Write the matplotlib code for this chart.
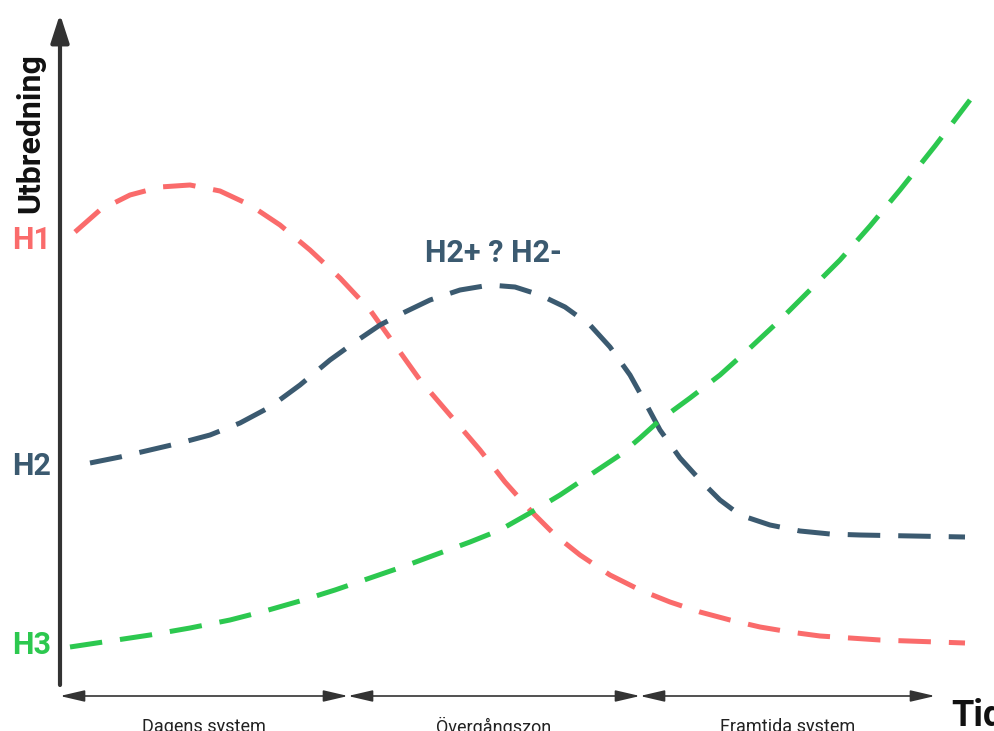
import matplotlib
matplotlib.use("Agg")
import matplotlib.pyplot as plt

plt.rcParams["font.family"] = ["Roboto", "DejaVu Sans"]

# values (pixel-like units, y grows downward)
h1_x = [75, 100, 130, 160, 190, 220, 250, 280, 310, 340, 370, 395, 420, 450, 480,
        505, 530, 555, 580, 610, 640, 670, 700, 730, 760, 790, 820, 880, 965]
h1_y = [232, 210, 195, 187, 185, 191, 205, 225, 250, 278, 310, 345, 380, 415, 450,
        482, 510, 535, 555, 575, 590, 602, 612, 620, 627, 632, 636, 640, 643]

h2_x = [90, 120, 150, 180, 210, 240, 270, 300, 330, 355, 380, 405, 430, 460, 490,
        515, 540, 565, 590, 610, 630, 645, 660, 680, 700, 720, 740, 770, 800, 830,
        860, 965]
h2_y = [463, 457, 450, 443, 435, 423, 407, 385, 360, 342, 325, 312, 300, 290, 285,
        287, 295, 307, 325, 347, 375, 402, 430, 458, 480, 500, 515, 525, 531, 534,
        535, 537]

h3_x = [70, 110, 150, 190, 230, 265, 300, 335, 370, 405, 440, 470, 500, 530, 560,
        590, 620, 640, 660, 690, 720, 750, 780, 810, 840, 870, 900, 935, 970]
h3_y = [647, 641, 635, 628, 620, 611, 601, 590, 578, 566, 553, 542, 530, 513, 495,
        475, 455, 438, 420, 398, 375, 348, 320, 290, 260, 226, 190, 146, 100]

zones = ["Dagens system", "Övergångszon", "Framtida system"]
zone_edges = [60, 348, 640, 935]

RED = "#FA6B6B"
BLUE = "#3B5A70"
GREEN = "#2CC84F"
AXIS = "#333333"

fig = plt.figure(figsize=(9.95, 7.31), dpi=100)
ax = fig.add_axes([0, 0, 1, 1])
ax.set_xlim(0, 995)
ax.set_ylim(731, 0)
ax.axis("off")

dash = (0, (6.5, 3.6))
for xs, ys, c in [(h1_x, h1_y, RED), (h2_x, h2_y, BLUE), (h3_x, h3_y, GREEN)]:
    ax.plot(xs, ys, color=c, lw=3.6, linestyle=dash, dash_capstyle="butt",
            solid_joinstyle="round", dash_joinstyle="round")

# main axes with arrow heads
ax.annotate("", xy=(60, 14), xytext=(60, 685),
            arrowprops=dict(arrowstyle="-|>,head_length=1.7,head_width=0.55",
                            color=AXIS, lw=3, shrinkA=0, shrinkB=0))
ax.annotate("", xy=(1003, 683), xytext=(58, 683),
            arrowprops=dict(arrowstyle="-|>,head_length=1.7,head_width=0.55",
                            color=AXIS, lw=3, shrinkA=0, shrinkB=0))

# zone ranges
for i, name in enumerate(zones):
    x0, x1 = zone_edges[i], zone_edges[i + 1]
    ax.annotate("", xy=(x1, 696), xytext=(x0, 696),
                arrowprops=dict(arrowstyle="<|-|>,head_length=1.5,head_width=0.35",
                                color=AXIS, lw=1.2, shrinkA=0, shrinkB=0))
    ax.text((x0 + x1) / 2, 727, name, ha="center", va="center",
            fontsize=13, color="#222222")

ax.text(30, 133, "Utbredning", rotation=90, ha="center", va="center",
        fontsize=23, fontweight="bold", color="#111111")
ax.text(951, 716, "Tid", ha="left", va="center",
        fontsize=26, fontweight="bold", color="#111111")

ax.text(32, 240, "H1", ha="center", va="center", fontsize=22, fontweight="bold", color=RED)
ax.text(32, 466, "H2", ha="center", va="center", fontsize=22, fontweight="bold", color=BLUE)
ax.text(32, 645, "H3", ha="center", va="center", fontsize=22, fontweight="bold", color=GREEN)
ax.text(493, 253, "H2+ ? H2-", ha="center", va="center", fontsize=22,
        fontweight="bold", color=BLUE)

fig.savefig("out.png", dpi=100)
